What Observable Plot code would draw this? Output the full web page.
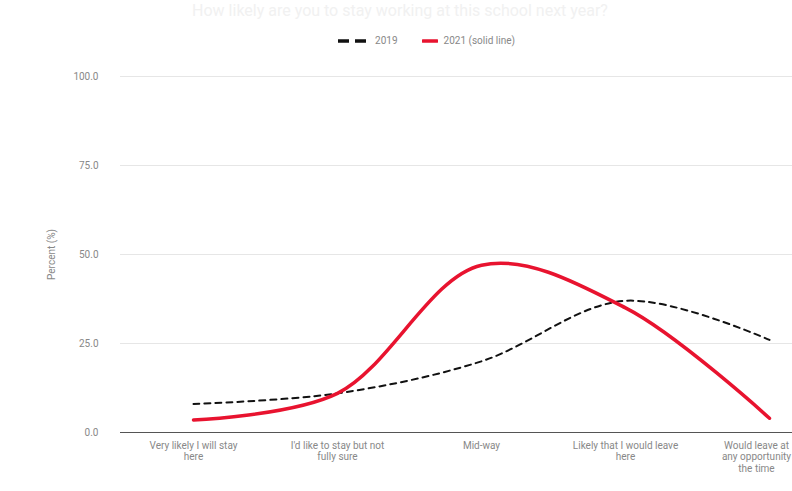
<!DOCTYPE html>
<html>
<head>
<meta charset="utf-8">
<script src="https://cdn.jsdelivr.net/npm/d3@7"></script>
<script src="https://cdn.jsdelivr.net/npm/@observablehq/plot@0.6"></script>
<style>
  html, body { margin: 0; padding: 0; background: #fff; overflow: hidden; width: 792px; height: 491px; }
  body { font-family: Roboto, "Liberation Sans", Arial, sans-serif; position: relative; }
  #title { position: absolute; top: 1px; left: 20px; width: 760px; text-align: center; font-size: 16px; color: #f1f1f1; white-space: nowrap; }
  #legend { position: absolute; top: 35px; left: 0; width: 852px; display: flex; justify-content: center; gap: 24px; font-size: 10px; color: #888; }
  #legend .item { display: flex; align-items: center; gap: 6px; }
  #chart { position: absolute; top: 60px; left: 0; width: 842px; }
  #chart svg { max-width: none !important; }
</style>
</head>
<body>
<div id="title">How likely are you to stay working at this school next year?</div>
<div id="legend"></div>
<div id="chart"></div>
<script>
const categories = [
  "Very likely I will stay\nhere",
  "I'd like to stay but not\nfully sure",
  "Mid-way",
  "Likely that I would leave\nhere",
  "Would leave at\nany opportunity\nthe time"
];
const seriesNames = ["2019", "2021 (solid line)"];
const values2019 = [8.0, 11.0, 20.0, 37.0, 26.0];
const values2021 = [3.5, 11.0, 47.0, 35.0, 4.0];
const yTicks = [0, 25, 50, 75, 100];

const data = [];
categories.forEach((c, i) => {
  data.push({cat: c, series: seriesNames[0], value: values2019[i]});
  data.push({cat: c, series: seriesNames[1], value: values2021[i]});
});

// Legend
const legend = document.getElementById("legend");
const swatch = [
  `<svg width="32" height="6"><line x1="1" y1="3" x2="31" y2="3" stroke="#111" stroke-width="3.5" stroke-dasharray="11,6"/></svg>`,
  `<svg width="16" height="6"><line x1="1" y1="3" x2="15" y2="3" stroke="#e8132f" stroke-width="3.5" stroke-linecap="round"/></svg>`
];
seriesNames.forEach((s, i) => {
  const d = document.createElement("div");
  d.className = "item";
  d.innerHTML = swatch[i] + `<span>${s}</span>`;
  legend.appendChild(d);
});

const lastCat = categories[categories.length - 1];

const chart = Plot.plot({
  width: 842,
  height: 440,
  marginLeft: 120,
  marginRight: 0,
  marginTop: 16,
  marginBottom: 68,
  style: {fontFamily: "Roboto, 'Liberation Sans', Arial, sans-serif", fontSize: "10px", color: "#888", background: "#fff", maxWidth: "none"},
  x: {type: "point", domain: categories, padding: 0.5},
  y: {domain: [0, 100]},
  marks: [
    Plot.gridY(yTicks, {stroke: "#e6e6e6", strokeOpacity: 1, strokeWidth: 1}),
    Plot.axisY(yTicks, {tickSize: 0, tickPadding: 22, tickFormat: d3.format(".1f"), label: "Percent (%)", labelAnchor: "center", labelArrow: "none", labelOffset: 73, fill: "#888"}),
    Plot.axisX(categories.slice(0, -1), {tickSize: 0, tickPadding: 8, label: null, fill: "#888", lineHeight: 1.15}),
    Plot.text([lastCat], {x: d => d, y: () => 0, dy: 8, dx: -13, lineAnchor: "top", textAnchor: "middle", fill: "#888", lineHeight: 1.15}),
    Plot.ruleY([0], {stroke: "#555", strokeWidth: 1}),
    Plot.line(data.filter(d => d.series === seriesNames[0]), {x: "cat", y: "value", stroke: "#111", strokeWidth: 2, strokeDasharray: "6,5", curve: "catmull-rom"}),
    Plot.line(data.filter(d => d.series === seriesNames[1]), {x: "cat", y: "value", stroke: "#e8132f", strokeWidth: 3.5, curve: "catmull-rom"})
  ]
});
document.getElementById("chart").appendChild(chart);
</script>
</body>
</html>
